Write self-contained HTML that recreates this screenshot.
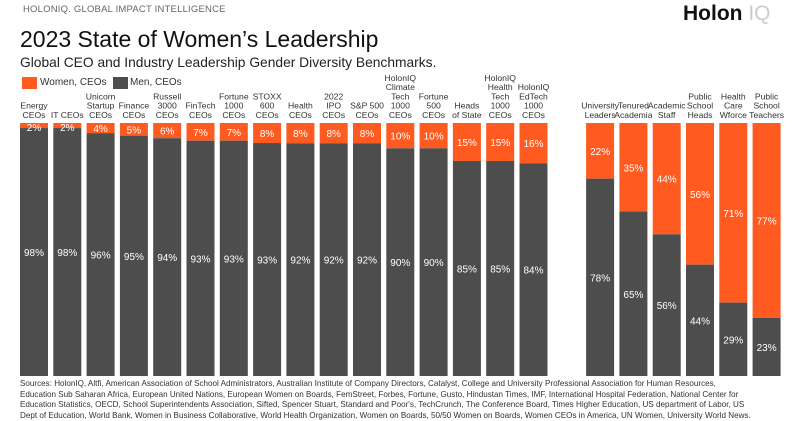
<!DOCTYPE html>
<html><head><meta charset="utf-8"><style>
body{margin:0;width:800px;height:419px;background:#fff;overflow:hidden;font-family:"Liberation Sans",sans-serif;position:relative}
.t{position:absolute;white-space:nowrap}
</style></head><body>
<div class="t" style="left:23px;top:4px;font-size:9.5px;color:#666;letter-spacing:0.2px">HOLONIQ. GLOBAL IMPACT INTELLIGENCE</div>
<div class="t" style="left:683px;top:2px;font-size:21px;font-weight:bold;color:#111">Holon <span style="color:#ccc;font-weight:normal">IQ</span></div>
<div class="t" style="left:20px;top:26px;font-size:23px;color:#111">2023 State of Women’s Leadership</div>
<div class="t" style="left:20px;top:55px;font-size:13.8px;color:#222">Global CEO and Industry Leadership Gender Diversity Benchmarks.</div>
<div>
<div style="position:absolute;left:22px;top:77px;width:15px;height:12px;background:#ff5a1f"></div>
<div class="t" style="left:40px;top:77px;font-size:10px;color:#333">Women, CEOs</div>
<div style="position:absolute;left:113px;top:77px;width:15px;height:12px;background:#4d4d4d"></div>
<div class="t" style="left:130px;top:77px;font-size:10px;color:#333">Men, CEOs</div>
</div>
<svg id="chart" width="800" height="419" style="position:absolute;left:0;top:0"></svg>
<div class="t" style="left:20px;top:379px;font-size:8.1px;line-height:10.5px;color:#333">Sources: HolonIQ, Altfi, American Association of School Administrators, Australian Institute of Company Directors, Catalyst, College and University Professional Association for Human Resources,<br>Education Sub Saharan Africa, European United Nations, European Women on Boards, FemStreet, Forbes, Fortune, Gusto, Hindustan Times, IMF, International Hospital Federation, National Center for<br>Education Statistics, OECD, School Superintendents Association, Sifted, Spencer Stuart, Standard and Poor's, TechCrunch, The Conference Board, Times Higher Education, US department of Labor, US<br>Dept of Education, World Bank, Women in Business Collaborative, World Health Organization, Women on Boards, 50/50 Women on Boards, Women CEOs in America, UN Women, University World News.</div>
<script>
const categories=["Energy|CEOs","IT CEOs","Unicorn|Startup|CEOs","Finance|CEOs","Russell|3000|CEOs","FinTech|CEOs","Fortune|1000|CEOs","STOXX|600|CEOs","Health|CEOs","2022|IPO|CEOs","S&P 500|CEOs","HolonIQ|Climate|Tech|1000|CEOs","Fortune|500|CEOs","Heads|of State","HolonIQ|Health|Tech|1000|CEOs","HolonIQ|EdTech|1000|CEOs","","University|Leaders","Tenured|Academia","Academic|Staff","Public|School|Heads","Health|Care|Wforce","Public|School|Teachers"];
const women=[2,2,4,5,6,7,7,8,8,8,8,10,10,15,15,16,null,22,35,44,56,71,77];
const men=[98,98,96,95,94,93,93,93,92,92,92,90,90,85,85,84,null,78,65,56,44,29,23];
const NS="http://www.w3.org/2000/svg";
const svg=document.getElementById('chart');
const x0=20,pitch=33.3,bw=28,yTop=123,yBot=376;
const xs=i=>x0+i*pitch;
const ys=v=>yBot-(v/100)*(yBot-yTop);
function mk(t,a){const e=document.createElementNS(NS,t);for(const k in a)e.setAttribute(k,a[k]);svg.appendChild(e);return e;}
categories.forEach((c,i)=>{
 if(women[i]==null)return;
 const x=xs(i),tot=women[i]+men[i];
 const yb=ys(men[i]/tot*100);
 const r1=mk('rect',{x:x,y:yTop,width:bw,height:yb-yTop,fill:'#ff5a1f'});
 
 const r2=mk('rect',{x:x,y:yb,width:bw,height:yBot-yb,fill:'#4d4d4d'});
 
 const wy=Math.max((yTop+yb)/2,127);
 const t1=mk('text',{x:x+bw/2,y:wy+4,'text-anchor':'middle','font-size':'10','fill':'#fff','font-family':'Liberation Sans, sans-serif'});
 t1.textContent=women[i]+'%';
 
 const t2=mk('text',{x:x+bw/2,y:(yb+yBot)/2+4,'text-anchor':'middle','font-size':'10','fill':'#fff','font-family':'Liberation Sans, sans-serif'});
 t2.textContent=men[i]+'%';
 
 const lines=c.split('|');
 lines.forEach((l,j)=>{
  const t=mk('text',{x:x+bw/2,y:118-(lines.length-1-j)*9.3,'text-anchor':'middle','font-size':'8.6','fill':'#333','font-family':'Liberation Sans, sans-serif'});
  t.textContent=l;
  
 });
});
</script>
</body></html>
